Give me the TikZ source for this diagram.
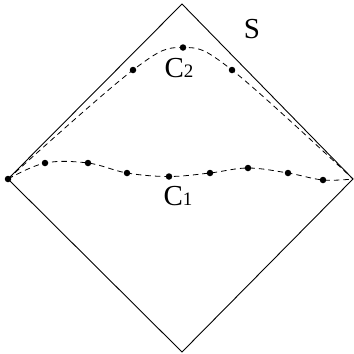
\documentclass[tikz,border=0pt]{standalone}
\usepackage{fontspec}
\setmainfont{Liberation Serif}
\usetikzlibrary{positioning}

\begin{document}
\begin{tikzpicture}[x=1pt, y=-1pt,
  pt/.style={circle, fill=black, inner sep=0pt, minimum size=6.5pt},
  edge/.style={line width=0.9pt, draw=black},
  curve/.style={line width=0.8pt, dash pattern=on 5.5pt off 4pt},
  lbl/.style={font=\fontsize{29}{29}\selectfont, inner sep=0pt, anchor=base}
]
\useasboundingbox (0,0) rectangle (354,354);

% diamond
\coordinate (T) at (182,4);
\coordinate (R) at (353,179);
\coordinate (B) at (182,352);
\node[pt] (L) at (8,179) {};
\draw[edge] (T) -- (R) -- (B) -- (L.center) -- cycle;

% points of C1
\node[pt] (a1) at (45,163) {};
\node[pt] (a2) at (88,163) {};
\node[pt] (a3) at (127,173) {};
\node[pt] (a4) at (169,176.5) {};
\node[pt] (a5) at (210,173) {};
\node[pt] (a6) at (248,168) {};
\node[pt] (a7) at (288,173) {};
\node[pt] (a8) at (323,180) {};

% points of C2
\node[pt] (b1) at (133,70) {};
\node[pt] (b2) at (183,47.5) {};
\node[pt] (b3) at (232,70) {};

\draw[curve] plot[smooth, tension=0.6] coordinates
  {(L.center) (a1) (a2) (a3) (a4) (a5) (a6) (a7) (a8) (R)};
\draw[curve] plot[smooth, tension=0.6] coordinates
  {(L.center) (b1) (b2) (b3) (R)};

% labels
\node[lbl] (S) at (252,38) {S};
\node[lbl] (C2) at (179,77) {C\fontsize{19}{19}\selectfont 2};
\node[lbl] (C1) at (178,205) {C\fontsize{19}{19}\selectfont 1};
\end{tikzpicture}
\end{document}
